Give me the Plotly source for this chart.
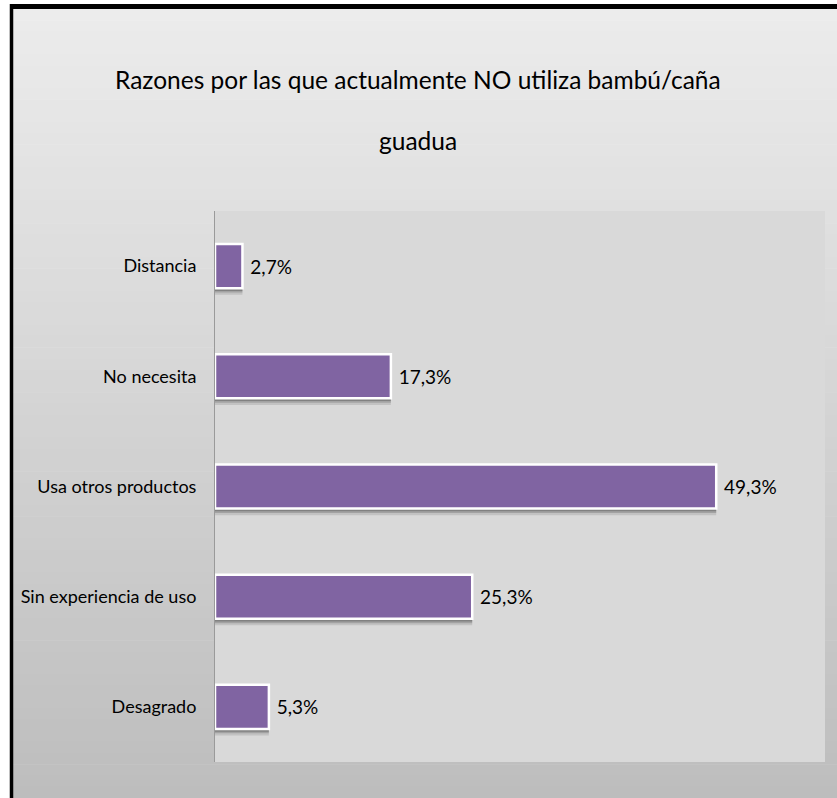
import plotly.graph_objects as go

# Survey answers, listed top to bottom as drawn
categories = ["Distancia", "No necesita", "Usa otros productos",
              "Sin experiencia de uso", "Desagrado"]
percentages = [2.7, 17.3, 49.3, 25.3, 5.3]

title_line1 = "Razones por las que actualmente NO utiliza bambú/caña"
title_line2 = "guadua"

W, H = 837, 798
# plot area in pixels
PL, PR, PT, PB = 215, 825, 211, 762
FONT = "Lato, Roboto, sans-serif"
BAR_COLOR = "#8064A2"
BAR_W = 0.40


def px_to_paper_x(px):
    return (px - PL) / (PR - PL)


def px_to_paper_y(py):
    return (PB - py) / (PB - PT)


fig = go.Figure()

# soft drop shadow under each bar
for shift, alpha in [(0.06, 0.10), (0.04, 0.16), (0.025, 0.20)]:
    fig.add_trace(go.Bar(
        x=percentages, y=categories, orientation="h",
        width=BAR_W, offset=-BAR_W / 2 + shift,
        marker=dict(color=f"rgba(0,0,0,{alpha})", line=dict(width=0)),
        hoverinfo="skip", showlegend=False,
    ))

# the bars themselves with a white outline and value labels
fig.add_trace(go.Bar(
    x=percentages, y=categories, orientation="h",
    width=BAR_W, offset=-BAR_W / 2,
    marker=dict(color=BAR_COLOR, line=dict(color="white", width=2.5)),
    texttemplate="\u00a0%{x:.1f}%", textposition="outside", cliponaxis=False,
    textfont=dict(family=FONT, size=19, color="black"),
    showlegend=False,
))

shapes = []
# vertical gradient of the chart background
n = 70
top, bottom = 9, H
c_top, c_bot = 236, 189
for i in range(n):
    y0 = top + (bottom - top) * i / n
    y1 = top + (bottom - top) * (i + 1) / n + 0.6
    c = round(c_top + (c_bot - c_top) * (i + 0.5) / n)
    shapes.append(dict(
        type="rect", xref="paper", yref="paper", layer="below",
        x0=px_to_paper_x(13), x1=px_to_paper_x(W + 2),
        y0=px_to_paper_y(y0), y1=px_to_paper_y(y1),
        fillcolor=f"rgb({c},{c},{c})", line=dict(width=0),
    ))
# plot area panel
shapes.append(dict(
    type="rect", xref="paper", yref="paper", layer="below",
    x0=0, x1=1, y0=0, y1=1, fillcolor="#d9d9d9", line=dict(width=0),
))
# black frame on top and left
shapes.append(dict(
    type="line", xref="paper", yref="paper", layer="above",
    x0=px_to_paper_x(10), x1=px_to_paper_x(W + 5),
    y0=px_to_paper_y(6.5), y1=px_to_paper_y(6.5),
    line=dict(color="black", width=5),
))
shapes.append(dict(
    type="line", xref="paper", yref="paper", layer="above",
    x0=px_to_paper_x(11.5), x1=px_to_paper_x(11.5),
    y0=px_to_paper_y(4), y1=px_to_paper_y(H + 5),
    line=dict(color="black", width=3.5),
))

annotations = [
    dict(text=title_line1, xref="paper", yref="paper",
         x=px_to_paper_x(418), y=px_to_paper_y(79),
         xanchor="center", yanchor="middle", showarrow=False,
         font=dict(family=FONT, size=24.5, color="black")),
    dict(text=title_line2, xref="paper", yref="paper",
         x=px_to_paper_x(418), y=px_to_paper_y(140),
         xanchor="center", yanchor="middle", showarrow=False,
         font=dict(family=FONT, size=24.5, color="black")),
]

fig.update_layout(
    width=W, height=H,
    margin=dict(l=PL, r=W - PR, t=PT, b=H - PB, pad=0),
    paper_bgcolor="white", plot_bgcolor="#d9d9d9",
    barmode="overlay", bargap=0.5,
    separators=",.",
    shapes=shapes, annotations=annotations,
    font=dict(family=FONT, size=18, color="black"),
    xaxis=dict(range=[0, 60], showgrid=False, zeroline=False, automargin=False,
               showticklabels=False, ticks="", showline=False, fixedrange=True),
    yaxis=dict(autorange="reversed", showgrid=False, zeroline=False,
               automargin=False,
               showline=True, linecolor="#9a9a9a", linewidth=1,
               ticks="outside", ticklen=14, tickcolor="rgba(0,0,0,0)",
               tickfont=dict(family=FONT, size=18, color="black")),
)

fig.write_html("out.html")
